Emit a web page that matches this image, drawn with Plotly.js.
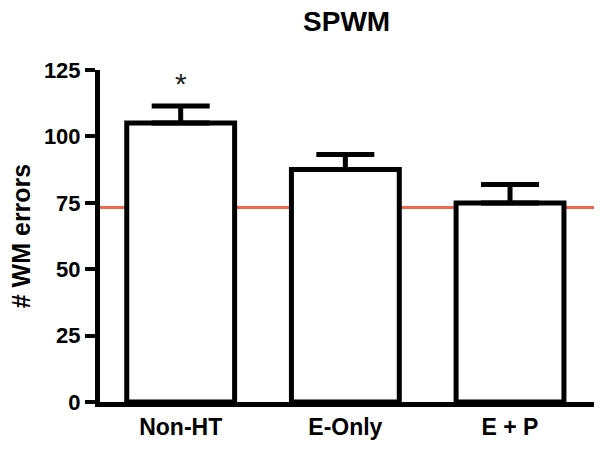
<!DOCTYPE html>
<html>
<head>
<meta charset="utf-8">
<script src="https://cdn.plot.ly/plotly-3.0.1.min.js"></script>
<style>
  body { margin: 0; background: #fff; }
  #chart { width: 606px; height: 450px; }
</style>
</head>
<body>
<div id="chart"></div>
<script>
var groups = ["Non-HT", "E-Only", "E + P"];
var meanErrors = [105, 87.5, 74.9];
var semErrors = [6.4, 5.7, 7.0];
var referenceLevel = 73.2;
var starLabel = "*";
var starY = 120;

var bars = {
  x: [0, 1, 2],
  y: meanErrors,
  type: 'bar',
  width: 0.655,
  marker: { color: 'white', line: { color: 'black', width: 5 } },
  error_y: {
    type: 'data',
    symmetric: false,
    array: semErrors,
    arrayminus: [0, 0, 0],
    color: 'black',
    thickness: 5,
    width: 29
  },
  hoverinfo: 'none'
};

var font = "Arial, 'Liberation Sans', Helvetica, sans-serif";

var layout = {
  width: 606,
  height: 450,
  margin: { l: 100, r: 12, t: 70, b: 48 },
  paper_bgcolor: 'white',
  plot_bgcolor: 'white',
  showlegend: false,
  title: {
    text: '<b>SPWM</b>',
    font: { family: font, size: 28, color: 'black' },
    x: 0.572, xanchor: 'center',
    y: 0.952, yanchor: 'middle'
  },
  xaxis: {
    range: [-0.49, 2.51],
    tickvals: [0, 1, 2],
    ticktext: groups.map(function (g) { return '<b>' + g + '</b>'; }),
    ticks: '',
    showline: true, linecolor: 'black', linewidth: 5,
    showgrid: false, zeroline: false,
    tickfont: { family: font, size: 23, color: 'black' }
  },
  yaxis: {
    range: [0, 125],
    tickvals: [0, 25, 50, 75, 100, 125],
    ticktext: ['<b>0</b>', '<b>25</b>', '<b>50</b>', '<b>75</b>', '<b>100</b>', '<b>125</b>'],
    ticks: 'outside', ticklen: 10, tickwidth: 4, tickcolor: 'black',
    showline: true, linecolor: 'black', linewidth: 5,
    showgrid: false, zeroline: false,
    tickfont: { family: font, size: 22, color: 'black' },
    title: {
      text: '<b># WM errors</b>',
      font: { family: font, size: 25, color: 'black' },
      standoff: 8
    }
  },
  shapes: [{
    type: 'line', xref: 'paper', yref: 'y',
    x0: 0, x1: 1, y0: referenceLevel, y1: referenceLevel,
    line: { color: '#f2674b', width: 3 },
    layer: 'below'
  }],
  annotations: [{
    x: 0, y: starY, xref: 'x', yref: 'y',
    text: starLabel, showarrow: false,
    font: { family: font, size: 30, color: '#222' }
  }]
};

Plotly.newPlot('chart', [bars], layout, { displayModeBar: false, staticPlot: true });
</script>
</body>
</html>
